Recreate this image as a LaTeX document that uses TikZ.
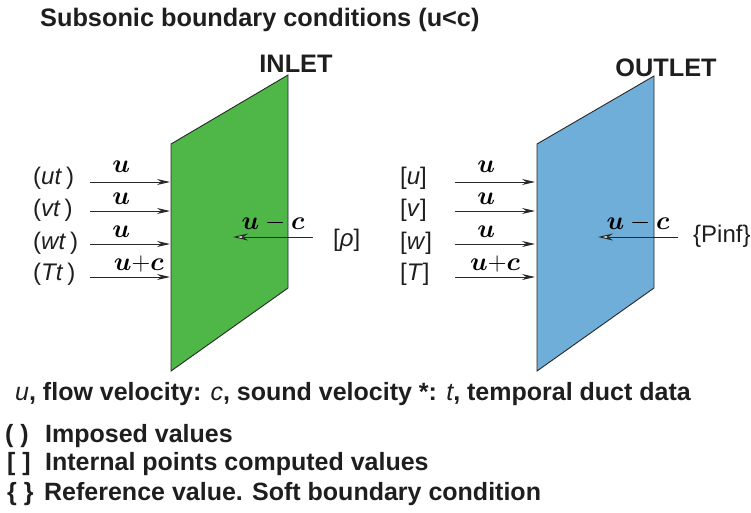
\documentclass[tikz,border=0pt]{standalone}
\usepackage{fix-cm}
\usepackage{amsmath,bm}
\usepackage{fontspec}
\setmainfont{Liberation Sans}
\usetikzlibrary{arrows.meta,positioning}
\definecolor{cGreen}{RGB}{78,183,72}
\definecolor{cBlue}{RGB}{111,174,216}
\definecolor{cDark}{RGB}{40,40,40}
\definecolor{cText}{RGB}{30,30,30}
\tikzset{
  basepanel/.style={draw=cDark,line width=0.9pt,line join=miter},
  inpanel/.style={basepanel,fill=cGreen},
  outpanel/.style={basepanel,fill=cBlue},
  hdr/.style={inner sep=0pt,text=cText,font=\fontsize{25.3}{30}\selectfont\bfseries},
  val/.style={inner sep=0pt,text=cText,font=\fontsize{24}{28}\selectfont},
  note/.style={inner sep=0pt,text=cText,font=\fontsize{25}{30}\selectfont\bfseries},
  wave/.style={inner sep=0pt,anchor=base,text=black,font=\fontsize{26}{30}\selectfont},
  fwd/.style={-{Stealth[length=13pt,width=6pt]},line width=1pt,color=cDark},
  bwd/.style={-{Stealth[open,length=15pt,width=7pt,fill=white]},line width=1pt,color=cDark}
}

\begin{document}
\begin{tikzpicture}[x=1pt,y=-1pt]
  \useasboundingbox (0,0) rectangle (751,512);

  \draw[inpanel]  (171,144) -- (288,75) -- (288,288) -- (171,371) -- cycle;
  \draw[outpanel] (537,144) -- (654,76) -- (654,288) -- (537,371) -- cycle;

  \node[hdr,anchor=base west] (title) at (40,26) {Subsonic boundary conditions (u<c)};
  \node[hdr,anchor=base] (inlet)  at (296,72) {INLET};
  \node[hdr,anchor=base] (outlet) at (666,76) {OUTLET};

  \foreach \n/\y/\yl/\a/\b in {1/182/184/ut/u,2/211/216/vt/v,3/244/249/wt/w,4/277/280/Tt/T} {
    \coordinate (ia\n) at (90,\y);
    \coordinate (ib\n) at (170,\y);
    \coordinate (oa\n) at (455,\y);
    \coordinate (ob\n) at (535,\y);
    \node[val,anchor=base west] (il\n) at (33,\yl)  {(\textit{\a}\/\,)};
    \node[val,anchor=base west] (ol\n) at (400,\yl) {[\textit{\b}]};
  }
  \foreach \n/\dy in {1/10pt,2/7pt,3/7pt} {
    \draw[fwd] (ia\n) -- node[wave,pos=0.39,yshift=\dy] {$\bm{u}$} (ib\n);
    \draw[fwd] (oa\n) -- node[wave,pos=0.39,yshift=\dy] {$\bm{u}$} (ob\n);
  }
  \draw[fwd] (ia4) -- node[wave,pos=0.61,yshift=7pt] {$\bm{u}{+}\bm{c}$} (ib4);
  \draw[fwd] (oa4) -- node[wave,pos=0.5,yshift=7pt]  {$\bm{u}{+}\bm{c}$} (ob4);

  \node[val,anchor=base west] (rho)  at (333,246) {[\textit{ρ}]};
  \node[val,anchor=base west] (pinf) at (693,242) {\{Pinf\}};
  \coordinate (ra) at (313,237);
  \coordinate (rb) at (233,237);
  \coordinate (sa) at (678,237);
  \coordinate (sb) at (598,237);
  \draw[bwd] (ra) -- node[wave,yshift=8pt] {$\bm{u}-\bm{c}$} (rb);
  \draw[bwd] (sa) -- node[wave,yshift=8pt] {$\bm{u}-\bm{c}$} (sb);

  \node[note,anchor=base west] (key) at (15,400)
      {{\mdseries\itshape u}, flow velocity: {\mdseries\itshape c}, sound velocity *: {\mdseries\itshape t}, temporal duct data};
  \node[note,anchor=base west] (imp) at (5,442) {\makebox[40pt][l]{( )}Imposed values};
  \node[note,anchor=base west] (int) at (7,470) {\makebox[38pt][l]{[ ]}Internal points computed values};
  \node[note,anchor=base west] (ref) at (7,500) {\makebox[37pt][l]{\{ \}}Reference value. Soft boundary condition};
\end{tikzpicture}
\end{document}
